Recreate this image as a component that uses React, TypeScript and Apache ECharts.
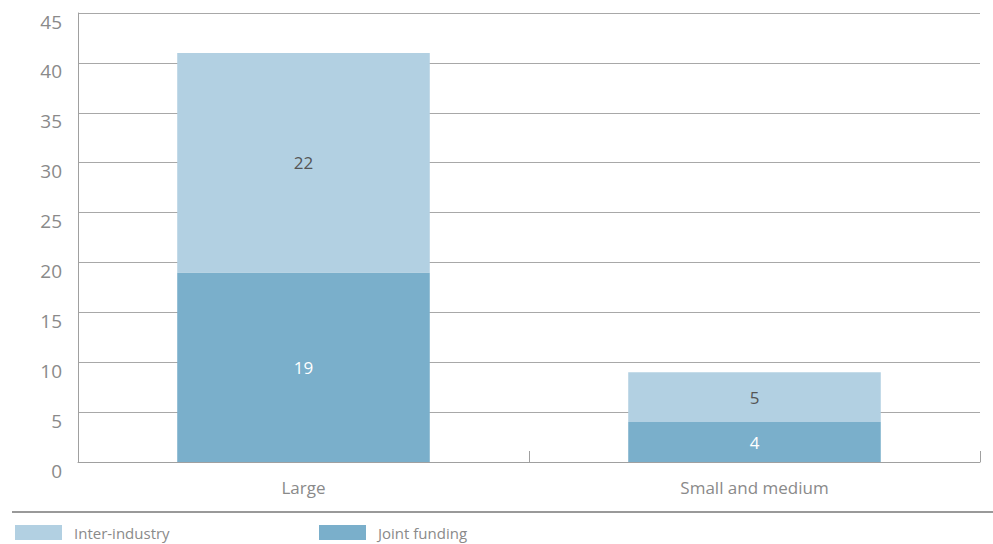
import React, { useEffect, useRef } from "react";
import * as echarts from "echarts";

const categories = ["Large", "Small and medium"];
const seriesNames = ["Joint funding", "Inter-industry"];
const jointFunding = [19, 4];
const interIndustry = [22, 5];
const yTicks = { min: 0, max: 45, interval: 5 };

const FONT = "'Open Sans', 'Noto Sans', sans-serif";

export default function App() {
  const ref = useRef<HTMLDivElement>(null);
  useEffect(() => {
    if (!ref.current) return;
    const chart = echarts.init(ref.current, null, { renderer: "svg" });
    const legendCommon = {
      top: 525,
      padding: 0,
      itemWidth: 47,
      itemHeight: 15,
      icon: "rect",
      textStyle: { color: "#8a8a8a", fontSize: 15, fontFamily: FONT, padding: [0, 0, 0, 7] },
    };
    chart.setOption({
      animation: false,
      textStyle: { fontFamily: FONT },
      grid: { left: 78, right: 13, top: 13, bottom: 82, containLabel: false },
      legend: [
        { ...legendCommon, data: [seriesNames[1]], left: 15 },
        { ...legendCommon, data: [seriesNames[0]], left: 319 },
      ],
      xAxis: {
        type: "category",
        data: categories,
        axisLine: { lineStyle: { color: "#a0a0a0", width: 1 } },
        axisTick: { show: true, inside: true, length: 11, lineStyle: { color: "#a0a0a0" } },
        axisLabel: { color: "#8a8a8a", fontSize: 17, margin: 17, fontFamily: FONT },
      },
      yAxis: {
        type: "value",
        min: yTicks.min,
        max: yTicks.max,
        interval: yTicks.interval,
        axisLine: { show: true, lineStyle: { color: "#a0a0a0", width: 1 } },
        axisTick: { show: false },
        axisLabel: {
          color: "#8a8a8a",
          fontSize: 19,
          margin: 16,
          fontFamily: FONT,
          verticalAlign: "top",
          padding: [-1, 0, 0, 0],
        },
        splitLine: { lineStyle: { color: "#a8a8a8", width: 1 } },
      },
      graphic: [
        {
          type: "line",
          shape: { x1: 12, y1: 512, x2: 993, y2: 512 },
          style: { stroke: "#999999", lineWidth: 2 },
        },
      ],
      series: [
        {
          name: seriesNames[0],
          type: "bar",
          stack: "total",
          data: jointFunding,
          barWidth: "56%",
          itemStyle: { color: "#7aafcb" },
          label: { show: true, position: "inside", color: "#ffffff", fontSize: 17, fontFamily: FONT },
        },
        {
          name: seriesNames[1],
          type: "bar",
          stack: "total",
          data: interIndustry,
          barWidth: "56%",
          itemStyle: { color: "#b2d0e2" },
          label: { show: true, position: "inside", color: "#555555", fontSize: 17, fontFamily: FONT },
        },
      ],
    });
    return () => chart.dispose();
  }, []);
  return <div ref={ref} style={{ width: 993, height: 544, position: "absolute", left: 0, top: 0 }} />;
}
